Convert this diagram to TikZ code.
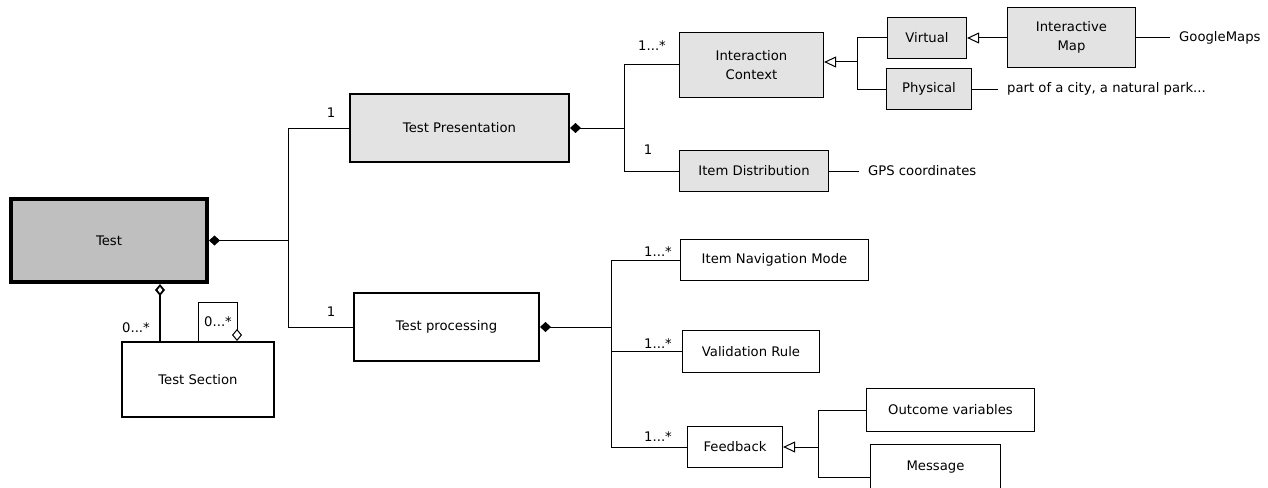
\documentclass[tikz,border=0pt]{standalone}
\usepackage{fontspec}
\setmainfont{DejaVu Sans}
\usetikzlibrary{arrows.meta,calc}

\begin{document}
\begin{tikzpicture}[x=1pt,y=-1pt,
  every node/.style={font=\fontsize{13.2}{19}\selectfont},
  cls/.style={draw, line width=1.2pt, inner sep=0pt, align=center, fill=white},
  key/.style={cls, fill=black!11},
  main/.style={cls, line width=2pt},
  link/.style={line width=1pt},
  mult/.style={inner sep=0pt},
  note/.style={anchor=west, inner xsep=9pt, inner ysep=0pt},
  comp/.style={{Diamond[length=11pt,width=10pt]}-},
  aggr/.style={{Diamond[open,length=12pt,width=10pt]}-},
  gen/.style={{Triangle[open,length=12pt,width=11pt]}-},
]
\clip (0,0) rectangle (1268,487);

% classes
\node[cls, line width=4pt, fill=black!25, minimum width=196pt, minimum height=83pt] (test) at (109,240.5) {Test};
\node[key, line width=2pt, minimum width=219pt, minimum height=68pt] (pres) at (459.5,128) {Test Presentation};
\node[main, minimum width=185pt, minimum height=68pt] (proc) at (446.5,327) {Test processing};
\node[main, minimum width=152pt, minimum height=75pt] (sect) at (198,379.5) {Test Section};
\node[key, minimum width=144pt, minimum height=65pt] (ctx) at (751.5,65) {Interaction\\Context};
\node[key, minimum width=149pt, minimum height=41pt] (dist) at (754,171) {Item Distribution};
\node[key, minimum width=79pt, minimum height=41pt] (virt) at (927,38) {Virtual};
\node[key, minimum width=85pt, minimum height=41pt] (phys) at (929,89) {Physical};
\node[key, minimum width=128pt, minimum height=60pt] (imap) at (1071.5,37.5) {Interactive\\Map};
\node[cls, minimum width=188pt, minimum height=41pt] (nav) at (774.5,260) {Item Navigation Mode};
\node[cls, minimum width=137pt, minimum height=42pt] (rule) at (751,351.5) {Validation Rule};
\node[cls, minimum width=95pt, minimum height=41pt] (fb) at (735,447) {Feedback};
\node[cls, minimum width=168pt, minimum height=43pt] (outv) at (950.5,410) {Outcome variables};
\node[cls, minimum width=130pt, minimum height=46pt] (msg) at (935.5,467.5) {Message};

% notes attached to classes
\node[note] (gm) at (1170,37.5) {GoogleMaps};
\node[note] (park) at (998,89) {part of a city, a natural park...};
\node[note] (gps) at (859,171) {GPS coordinates};

% bus positions
\coordinate (b1) at (288,0);
\coordinate (b2) at (624,0);
\coordinate (b3) at (857,0);
\coordinate (b4) at (611,0);
\coordinate (b5) at (818,0);
\coordinate (ctxa) at ([yshift=3pt]ctx.east);
\coordinate (msga) at ([yshift=-10pt]msg.west);

% composition: Test
\draw[link, comp] (test.east) -- (test.east -| b1) |- (pres.west);
\draw[link] (test.east -| b1) |- (proc.west);

% composition: Test Presentation
\draw[link, comp] (pres.east) -- (pres.east -| b2) |- (ctx.west);
\draw[link] (pres.east -| b2) |- (dist.west);

% generalisation: Interaction Context
\draw[link, gen] (ctxa) -- (ctxa -| b3) |- (virt.west);
\draw[link] (ctxa -| b3) |- (phys.west);
\draw[link, gen] (virt.east) -- (virt.east -| imap.west);

% notes
\draw[link] (imap.east) -- (gm.west);
\draw[link] (phys.east) -- (park.west);
\draw[link] (dist.east) -- (gps.west);

% composition: Test processing
\draw[link, comp] (proc.east) -- (proc.east -| b4) |- (nav.west);
\draw[link] (proc.east -| b4) |- (rule.west);
\draw[link] (proc.east -| b4) |- (fb.west);

% generalisation: Feedback
\draw[link, gen] (fb.east) -- (fb.east -| b5) |- (outv.west);
\draw[link] (fb.east -| b5) |- (msga);

% aggregation: Test -- Test Section
\coordinate (c1) at (160,0);
\draw[line width=1.8pt, aggr] (test.south -| c1) -- (sect.north -| c1);

% self aggregation on Test Section
\coordinate (la) at (237,302);
\coordinate (lb) at (198,302);
\draw[link, aggr] (sect.north -| la) -- (la) -- (lb) -- (sect.north -| lb);

% multiplicities
\node[mult] (m1) at (331,113) {1};
\node[mult] (m2) at (331,312) {1};
\node[mult] (m3) at (136,328) {0...*};
\node[mult] (m4) at (218,322) {0...*};
\node[mult] (m5) at (652,46) {1...*};
\node[mult] (m6) at (648,150) {1};
\node[mult] (m7) at (658,252) {1...*};
\node[mult] (m8) at (658,344) {1...*};
\node[mult] (m9) at (658,437) {1...*};
\end{tikzpicture}
\end{document}
